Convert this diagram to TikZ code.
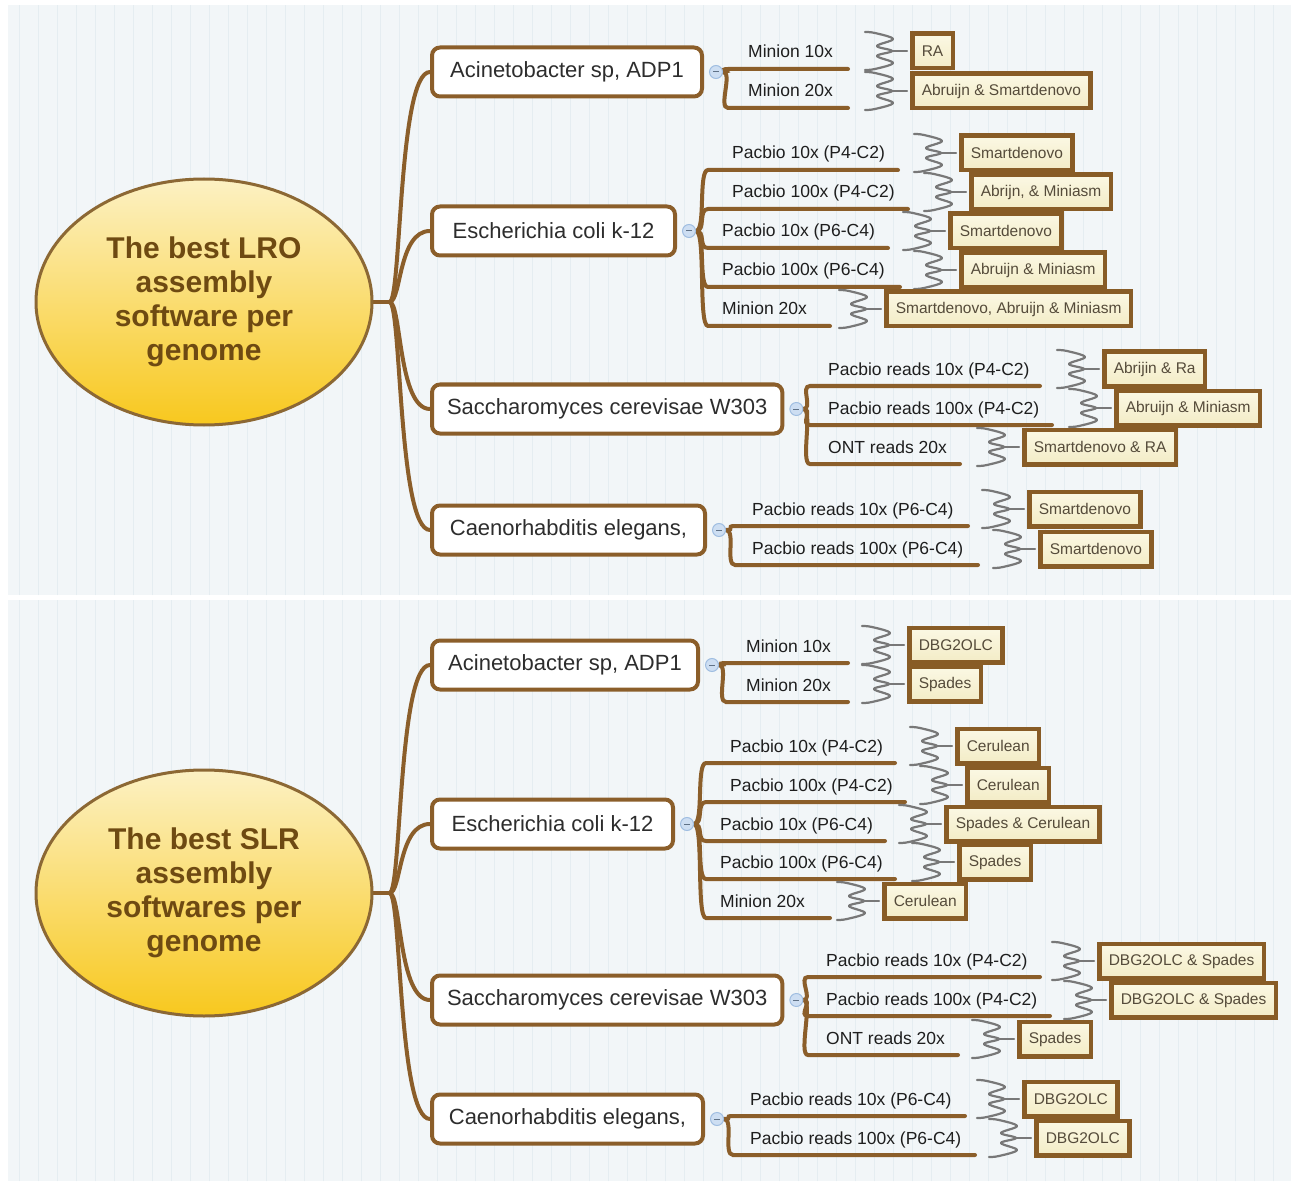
\documentclass[tikz,border=0pt]{standalone}
\usepackage{fontspec}
\setmainfont{Liberation Sans}
\usetikzlibrary{shapes.geometric,calc}
\definecolor{brn}{RGB}{139,94,42}
\definecolor{brnbox}{RGB}{136,92,38}
\definecolor{panel}{RGB}{242,246,248}
\definecolor{gridc}{RGB}{229,237,241}
\definecolor{ellTop}{RGB}{252,241,195}
\definecolor{ellBot}{RGB}{248,200,30}
\definecolor{ellBorder}{RGB}{140,104,52}
\definecolor{ellText}{RGB}{110,74,18}
\definecolor{resTop}{RGB}{251,248,228}
\definecolor{resBot}{RGB}{243,236,198}
\definecolor{resText}{RGB}{85,75,58}
\definecolor{subText}{RGB}{30,30,30}
\definecolor{brText}{RGB}{45,45,45}
\definecolor{sqc}{RGB}{120,120,120}
\definecolor{collFill}{RGB}{205,222,242}
\definecolor{collDraw}{RGB}{160,190,225}
\pgfdeclarelayer{back}
\pgfdeclarelayer{bg}
\pgfsetlayers{back,bg,main}
\tikzset{
  conn/.style={draw=brn, line width=4pt, line cap=round},
  rootnode/.style={ellipse, draw=ellBorder, line width=3pt, top color=ellTop, bottom color=ellBot,
    minimum width=336pt, minimum height=246pt, inner sep=0pt, align=center,
    font=\fontsize{30}{34}\selectfont\bfseries, text=ellText},
  brbox/.style={draw=brn, line width=4pt, rounded corners=8pt, fill=white, minimum height=49pt,
    inner xsep=15pt, inner ysep=0pt, font=\fontsize{22}{26}\selectfont, text=brText},
  coll/.style={circle, draw=collDraw, fill=collFill, line width=1pt, minimum size=13pt, inner sep=0pt,
    path picture={\draw[collDraw!60!black, line width=1pt] ([xshift=-3pt]path picture bounding box.center) -- ([xshift=3pt]path picture bounding box.center);}},
  subtxt/.style={inner sep=0pt, font=\fontsize{17.5}{21}\selectfont, text=subText},
  resbox/.style={draw=brnbox, line width=4.5pt, top color=resTop, bottom color=resBot,
    minimum height=34.5pt, inner xsep=9.5pt, inner ysep=0pt, font=\fontsize{15.5}{19}\selectfont, text=resText},
  sqline/.style={draw=sqc, line width=2.2pt, line cap=round, line join=round},
  squig/.pic={
    \draw[sqline] plot[smooth, tension=0.6] coordinates {(-45,-19) (-35,-18) (-17,-12) (-33,-5) (-18,0) (-33,5) (-17,12) (-35,18) (-45,19)};
    \draw[sqline] (-18,0) -- (-3,0);
  },
  gridl/.style={draw=gridc, line width=0.7pt},
}
% name, circle, xs, yu, xend, xtext, text
\newcommand\subbr[7]{%
  \coordinate (#1s) at (#3,#4);
  \coordinate (#1e) at (#5,#4);
  \begin{pgfonlayer}{bg}
  \draw[conn] (#2.east) .. controls +(10,0) and +(-10,0) .. (#1s) -- (#1e);
  \end{pgfonlayer}
  \node[subtxt, anchor=base west] (#1) at (#6,#4-11) {#7};
}
% name, x, y, text
\newcommand\res[4]{%
  \node[resbox, anchor=west] (#1) at (#2+2,#3) {#4};
  \pic at (#1.west) {squig};
}
\begin{document}
\begin{tikzpicture}[x=1pt, y=-1pt]
\useasboundingbox (0,0) rectangle (1291,1182);
\begin{pgfonlayer}{back}
  \fill[white] (0,0) rectangle (1291,1182);
  \fill[panel] (8,5) rectangle (1291,595);
  \fill[panel] (8,600) rectangle (1291,1181);
  \draw[gridl] (8,5) grid[step=19] (1291,595);
  \draw[gridl] (8,600) grid[step=19] (1291,1181);
\end{pgfonlayer}

% ================= TOP PANEL =================
\node[rootnode] (root1) at (204,302) {The best LRO\\assembly\\software per\\genome};
\node[brbox, anchor=west, minimum width=270pt] (A1) at (430,72) {Acinetobacter sp, ADP1};
\node[brbox, anchor=west, minimum width=243pt] (E1) at (430,231) {Escherichia coli k-12};
\node[brbox, anchor=west, minimum width=348pt] (S1) at (430,409) {Saccharomyces cerevisae W303};
\node[brbox, anchor=west, minimum width=273pt] (C1) at (430,530) {Caenorhabditis elegans,};
\begin{pgfonlayer}{bg}
  \draw[conn] (root1.east) -- ++(16,0) coordinate (j1);
  \foreach \b in {A1,E1,S1,C1}
    \draw[conn] (j1) .. controls +(12,0) and +(-32,0) .. (\b.west);
\end{pgfonlayer}
\foreach \b in {A1,E1,S1,C1}
  \node[coll] (\b o) at ($(\b.east)+(12,0)$) {};

\subbr{A1s1}{A1o}{728}{69}{848}{748}{Minion 10x}
\subbr{A1s2}{A1o}{728}{108}{848}{748}{Minion 20x}
\res{A1r1}{908}{51}{RA}
\res{A1r2}{908}{91}{Abruijn \& Smartdenovo}

\subbr{E1s1}{E1o}{708}{170}{898}{732}{Pacbio 10x (P4-C2)}
\subbr{E1s2}{E1o}{708}{209}{908}{732}{Pacbio 100x (P4-C2)}
\subbr{E1s3}{E1o}{708}{248}{888}{722}{Pacbio 10x (P6-C4)}
\subbr{E1s4}{E1o}{708}{287}{900}{722}{Pacbio 100x (P6-C4)}
\subbr{E1s5}{E1o}{708}{326}{830}{722}{Minion 20x}
\res{E1r1}{957}{153}{Smartdenovo}
\res{E1r2}{967}{192}{Abrijn, \& Miniasm}
\res{E1r3}{946}{231}{Smartdenovo}
\res{E1r4}{957}{270}{Abruijn \& Miniasm}
\res{E1r5}{882}{309}{Smartdenovo, Abruijn \& Miniasm}

\subbr{S1s1}{S1o}{810}{386}{1040}{828}{Pacbio reads 10x (P4-C2)}
\subbr{S1s2}{S1o}{810}{425}{1052}{828}{Pacbio reads 100x (P4-C2)}
\subbr{S1s3}{S1o}{810}{464}{960}{828}{ONT reads 20x}
\res{S1r1}{1100}{369}{Abrijin \& Ra}
\res{S1r2}{1112}{408}{Abruijn \& Miniasm}
\res{S1r3}{1020}{447}{Smartdenovo \& RA}

\subbr{C1s1}{C1o}{735}{526}{968}{752}{Pacbio reads 10x (P6-C4)}
\subbr{C1s2}{C1o}{735}{565}{978}{752}{Pacbio reads 100x (P6-C4)}
\res{C1r1}{1025}{509}{Smartdenovo}
\res{C1r2}{1036}{549}{Smartdenovo}

% ================= BOTTOM PANEL =================
\node[rootnode] (root2) at (204,893) {The best SLR\\assembly\\softwares per\\genome};
\node[brbox, anchor=west, minimum width=266pt] (A2) at (430,665) {Acinetobacter sp, ADP1};
\node[brbox, anchor=west, minimum width=241pt] (E2) at (430,824) {Escherichia coli k-12};
\node[brbox, anchor=west, minimum width=346pt] (S2) at (430,1000) {Saccharomyces cerevisae W303};
\node[brbox, anchor=west, minimum width=271pt] (C2) at (430,1119) {Caenorhabditis elegans,};
\begin{pgfonlayer}{bg}
  \draw[conn] (root2.east) -- ++(16,0) coordinate (j2);
  \foreach \b in {A2,E2,S2,C2}
    \draw[conn] (j2) .. controls +(12,0) and +(-32,0) .. (\b.west);
\end{pgfonlayer}
\foreach \b in {A2,E2,S2,C2}
  \node[coll] (\b o) at ($(\b.east)+(12,0)$) {};

\subbr{A2s1}{A2o}{726}{663}{848}{746}{Minion 10x}
\subbr{A2s2}{A2o}{726}{702}{848}{746}{Minion 20x}
\res{A2r1}{905}{645}{DBG2OLC}
\res{A2r2}{905}{684}{Spades}

\subbr{E2s1}{E2o}{706}{763}{895}{730}{Pacbio 10x (P4-C2)}
\subbr{E2s2}{E2o}{706}{802}{905}{730}{Pacbio 100x (P4-C2)}
\subbr{E2s3}{E2o}{706}{841}{885}{720}{Pacbio 10x (P6-C4)}
\subbr{E2s4}{E2o}{706}{879}{895}{720}{Pacbio 100x (P6-C4)}
\subbr{E2s5}{E2o}{706}{918}{830}{720}{Minion 20x}
\res{E2r1}{953}{746}{Cerulean}
\res{E2r2}{963}{785}{Cerulean}
\res{E2r3}{942}{824}{Spades \& Cerulean}
\res{E2r4}{955}{862}{Spades}
\res{E2r5}{880}{901}{Cerulean}

\subbr{S2s1}{S2o}{808}{977}{1040}{826}{Pacbio reads 10x (P4-C2)}
\subbr{S2s2}{S2o}{808}{1016}{1050}{826}{Pacbio reads 100x (P4-C2)}
\subbr{S2s3}{S2o}{808}{1055}{958}{826}{ONT reads 20x}
\res{S2r1}{1095}{961}{DBG2OLC \& Spades}
\res{S2r2}{1107}{1000}{DBG2OLC \& Spades}
\res{S2r3}{1015}{1039}{Spades}

\subbr{C2s1}{C2o}{733}{1116}{965}{750}{Pacbio reads 10x (P6-C4)}
\subbr{C2s2}{C2o}{733}{1155}{975}{750}{Pacbio reads 100x (P6-C4)}
\res{C2r1}{1020}{1099}{DBG2OLC}
\res{C2r2}{1032}{1138}{DBG2OLC}
\end{tikzpicture}
\end{document}
